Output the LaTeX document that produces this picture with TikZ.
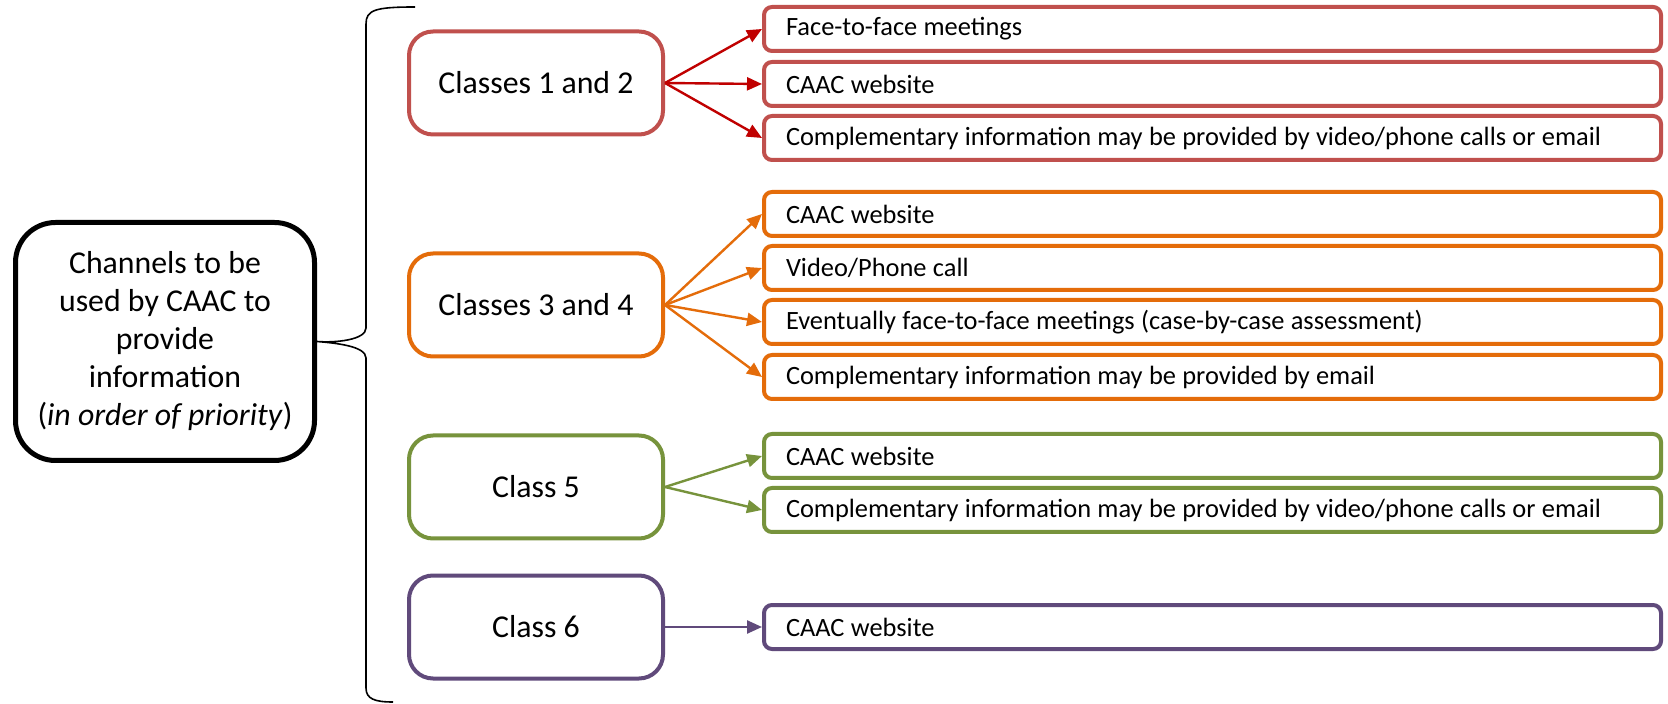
\documentclass[tikz,border=0pt]{standalone}
\usepackage{fontspec}
\setmainfont{Carlito}
\usetikzlibrary{arrows.meta}
\definecolor{redbox}{HTML}{C0504D}
\definecolor{redarrow}{HTML}{C00000}
\definecolor{orangebox}{HTML}{E46C0A}
\definecolor{greenbox}{HTML}{77933C}
\definecolor{purplebox}{HTML}{604A7B}
% channel text: tighter word spacing
\newcommand\tightwords{\spaceskip=0.24em plus 0.04em minus 0.02em\relax}
\begin{document}
\begin{tikzpicture}[x=0.5pt,y=-0.5pt,
  mainbox/.style={draw=black, line width=2.5pt, rounded corners=20pt,
    minimum width=149.5pt, minimum height=119pt, align=center,
    font=\fontsize{15.9}{19}\selectfont, inner sep=0pt},
  classbox/.style={draw=#1, line width=2pt, rounded corners=12pt,
    minimum width=127pt, minimum height=51.5pt,
    font=\fontsize{15.9}{19}\selectfont, inner sep=0pt},
  itembox/.style={draw=#1, line width=2pt, rounded corners=4pt,
    text width=426.5pt, align=left, inner xsep=11pt, inner ysep=0pt,
    minimum height=22pt, font=\fontsize{13.2}{16}\selectfont,
    execute at begin node=\tightwords},
  link/.style={draw=#1, line width=1.2pt,
    -{Triangle[length=7.5pt,width=6.5pt]}},
  bracepath/.style={draw=black, line width=0.8pt},
]
\useasboundingbox[fill=white] (0,0) rectangle (1668,704);

% left-hand summary box
\node[mainbox] (main) at (165,341.5)
  {Channels to be\\used by CAAC to\\provide\\information\\(\textit{in order of priority})};

% brace grouping the classes
\draw[bracepath] (415,7) .. controls (375,7) and (366,10) .. (366,24)
  -- (366,328) .. controls (366,340) and (335,343) .. (main.east)
  .. controls (335,343) and (366,346) .. (366,358)
  -- (366,688) .. controls (366,699) and (375,702) .. (393,702);

% class boxes
\node[classbox=redbox]    (c12) at (536,83)  {Classes 1 and 2};
\node[classbox=orangebox] (c34) at (536,305) {Classes 3 and 4};
\node[classbox=greenbox]  (c5)  at (536,487) {Class 5};
\node[classbox=purplebox] (c6)  at (536,627) {Class 6};

% channel boxes
\node[itembox=redbox] (r1) at (1212.5,29)  {Face-to-face meetings};
\node[itembox=redbox] (r2) at (1212.5,84)  {CAAC website};
\node[itembox=redbox] (r3) at (1212.5,138) {Complementary information may be provided by video/phone calls or email};

\node[itembox=orangebox] (o1) at (1212.5,214) {CAAC website};
\node[itembox=orangebox] (o2) at (1212.5,268) {Video/Phone call};
\node[itembox=orangebox] (o3) at (1212.5,322) {Eventually face-to-face meetings (case-by-case assessment)};
\node[itembox=orangebox] (o4) at (1212.5,377) {Complementary information may be provided by email};

\node[itembox=greenbox] (g1) at (1212.5,456) {CAAC website};
\node[itembox=greenbox] (g2) at (1212.5,510) {Complementary information may be provided by video/phone calls or email};

\node[itembox=purplebox] (p1) at (1212.5,627) {CAAC website};

% connectors
\foreach \t in {r1,r2,r3} \draw[link=redarrow] (c12.east) -- (\t.west);
\foreach \t in {o1,o2,o3,o4} \draw[link=orangebox] (c34.east) -- (\t.west);
\foreach \t in {g1,g2} \draw[link=greenbox] (c5.east) -- (\t.west);
\draw[link=purplebox] (c6.east) -- (p1.west);
\end{tikzpicture}
\end{document}
